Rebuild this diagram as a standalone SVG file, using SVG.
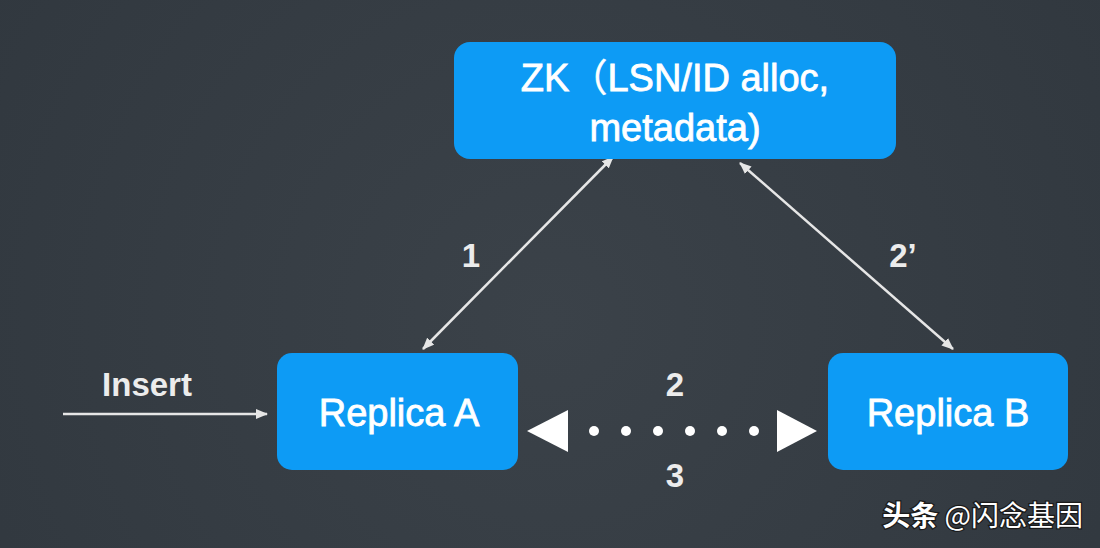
<svg xmlns="http://www.w3.org/2000/svg" width="1100" height="548" viewBox="0 0 1100 548">
  <defs>
    <radialGradient id="bg" cx="550" cy="320" r="720" gradientUnits="userSpaceOnUse">
      <stop offset="0" stop-color="#3b4249"/>
      <stop offset="1" stop-color="#30373e"/>
    </radialGradient>
    <marker id="ah" viewBox="0 0 12 10" refX="11" refY="5" markerWidth="12" markerHeight="10" markerUnits="userSpaceOnUse" orient="auto-start-reverse">
      <path d="M0,0 L12,5 L0,10 Z" fill="#e6e6e6"/>
    </marker>
    <style>
      .box { fill: #0d9bf5; }
      .lbl { font-family: "Liberation Sans", Arial, sans-serif; font-size: 38px; fill: #ffffff; stroke: #ffffff; stroke-width: 0.8px; text-anchor: middle; }
      .num { font-family: "Liberation Sans", Arial, sans-serif; font-weight: bold; font-size: 33px; fill: #ececec; text-anchor: middle; }
      .conn { stroke: #e6e6e6; stroke-width: 2.5; fill: none; }
      .dot { fill: #ffffff; }
      .wm { font-family: "Noto Sans CJK SC", sans-serif; font-size: 28px; fill: #ffffff; stroke: #1a1a1a; stroke-width: 2.5px; paint-order: stroke; }
    </style>
  </defs>
  <rect x="0" y="0" width="1100" height="548" fill="url(#bg)"/>

  <g id="connectors">
    <line class="conn" x1="63" y1="414" x2="267" y2="414" marker-end="url(#ah)"/>
    <line class="conn" x1="423" y1="349" x2="613" y2="157" marker-start="url(#ah)" marker-end="url(#ah)"/>
    <line class="conn" x1="740" y1="163" x2="953" y2="349" marker-start="url(#ah)" marker-end="url(#ah)"/>
    <g id="dotted-link">
      <polygon points="527,431 568,410 568,452" fill="#ffffff"/>
      <polygon points="817,431 777,410 777,452" fill="#ffffff"/>
      <circle class="dot" cx="594" cy="431" r="5"/>
      <circle class="dot" cx="626" cy="431" r="5"/>
      <circle class="dot" cx="658" cy="431" r="5"/>
      <circle class="dot" cx="690" cy="431" r="5"/>
      <circle class="dot" cx="722" cy="431" r="5"/>
      <circle class="dot" cx="754" cy="431" r="5"/>
    </g>
    <text class="num" x="147" y="396" font-size="36">Insert</text>
    <text class="num" x="471" y="267">1</text>
    <text class="num" x="903" y="267">2’</text>
    <text class="num" x="675" y="396">2</text>
    <text class="num" x="675" y="487">3</text>
  </g>

  <g id="zk">
    <rect class="box" x="454" y="42" width="442" height="117" rx="16"/>
    <text class="lbl" x="675" y="91" font-size="39">ZK<tspan font-family="'Noto Sans CJK SC', sans-serif" stroke-width="0.5">（</tspan>LSN/ID alloc,</text>
    <text class="lbl" x="675" y="141">metadata)</text>
  </g>

  <g id="replica-a">
    <rect class="box" x="277" y="353" width="241" height="117" rx="15"/>
    <text class="lbl" x="399" y="426">Replica A</text>
  </g>

  <g id="replica-b">
    <rect class="box" x="828" y="353" width="240" height="117" rx="15"/>
    <text class="lbl" x="948" y="426">Replica B</text>
  </g>

  <text class="wm" x="1083" y="526" text-anchor="end"><tspan font-weight="bold">头条</tspan> @闪念基因</text>
</svg>
